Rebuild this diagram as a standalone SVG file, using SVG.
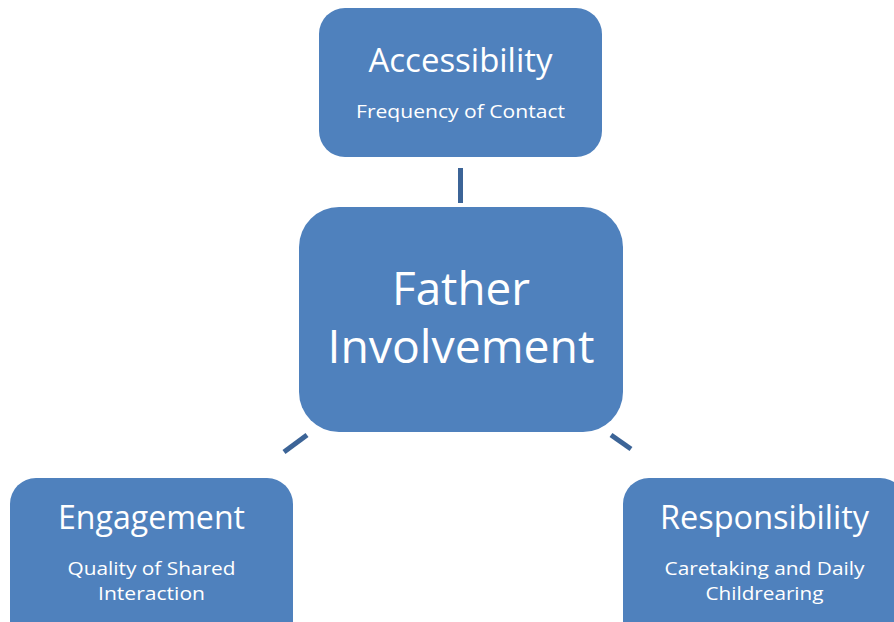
<svg xmlns="http://www.w3.org/2000/svg" width="894" height="622" viewBox="0 0 894 622">
<style>
.box{fill:#4F81BD;}
.t{fill:#FFFFFF;font-family:"Open Sans","Liberation Sans",sans-serif;text-anchor:middle;}
.h{font-size:33px;}
.s{font-size:19px;}
.c{font-size:46px;}
.conn{stroke:#3C6497;stroke-width:5;fill:none;}
</style>
<rect width="894" height="622" fill="#FFFFFF"/>
<g id="connectors">
<line class="conn" x1="460.5" y1="168" x2="460.5" y2="203"/>
<line class="conn" x1="284" y1="452" x2="307" y2="435"/>
<line class="conn" x1="611" y1="435" x2="631" y2="449"/>
</g>
<g id="accessibility">
<rect class="box" x="319" y="8" width="283" height="149" rx="26"/>
<text class="t h" x="460.5" y="72" textLength="184" lengthAdjust="spacingAndGlyphs">Accessibility</text>
<text class="t s" x="460.5" y="118" textLength="209" lengthAdjust="spacingAndGlyphs">Frequency of Contact</text>
</g>
<g id="father-involvement">
<rect class="box" x="299" y="207" width="324" height="225" rx="40"/>
<text class="t c" x="461" y="305" textLength="138" lengthAdjust="spacingAndGlyphs">Father</text>
<text class="t c" x="461" y="363" textLength="267" lengthAdjust="spacingAndGlyphs">Involvement</text>
</g>
<g id="engagement">
<rect class="box" x="10" y="478" width="283" height="170" rx="26"/>
<text class="t h" x="151.5" y="529" textLength="187" lengthAdjust="spacingAndGlyphs">Engagement</text>
<text class="t s" x="151.5" y="575" textLength="168" lengthAdjust="spacingAndGlyphs">Quality of Shared</text>
<text class="t s" x="151.5" y="600" textLength="107" lengthAdjust="spacingAndGlyphs">Interaction</text>
</g>
<g id="responsibility">
<rect class="box" x="623" y="478" width="283" height="170" rx="26"/>
<text class="t h" x="764.5" y="529" textLength="209" lengthAdjust="spacingAndGlyphs">Responsibility</text>
<text class="t s" x="764.5" y="575" textLength="200" lengthAdjust="spacingAndGlyphs">Caretaking and Daily</text>
<text class="t s" x="764.5" y="600" textLength="118" lengthAdjust="spacingAndGlyphs">Childrearing</text>
</g>
</svg>
